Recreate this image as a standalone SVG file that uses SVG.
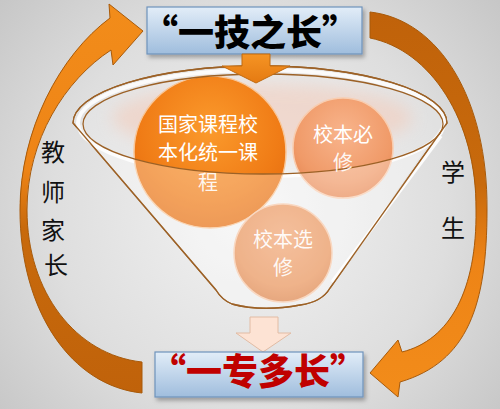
<svg xmlns="http://www.w3.org/2000/svg" width="500" height="409" viewBox="0 0 500 409">
<defs>
<radialGradient id="bg" cx="250" cy="210" r="330" gradientUnits="userSpaceOnUse">
<stop offset="0" stop-color="#f3f3f3"/><stop offset="0.6" stop-color="#dedede"/><stop offset="1" stop-color="#c6c6c6"/>
</radialGradient>
<linearGradient id="box" x1="0" y1="0" x2="0" y2="1">
<stop offset="0" stop-color="#e2edf8"/><stop offset="1" stop-color="#9fbddd"/>
</linearGradient>
<linearGradient id="arrL" gradientUnits="userSpaceOnUse" x1="140" y1="395" x2="120" y2="10">
<stop offset="0" stop-color="#c0620a"/><stop offset="0.45" stop-color="#c86a0c"/><stop offset="0.6" stop-color="#ee8416"/><stop offset="1" stop-color="#f28c1a"/>
</linearGradient>
<linearGradient id="arrR" gradientUnits="userSpaceOnUse" x1="380" y1="12" x2="380" y2="397">
<stop offset="0" stop-color="#c0620a"/><stop offset="0.45" stop-color="#c86a0c"/><stop offset="0.65" stop-color="#ee8416"/><stop offset="1" stop-color="#f28c1a"/>
</linearGradient>
<linearGradient id="downO" x1="0" y1="0" x2="0" y2="1">
<stop offset="0" stop-color="#f59424"/><stop offset="1" stop-color="#e57a12"/>
</linearGradient>
<radialGradient id="g1" cx="0.5" cy="0.35" r="0.65">
<stop offset="0" stop-color="#fb9a2c"/><stop offset="0.7" stop-color="#f07c16"/><stop offset="1" stop-color="#e66e10"/>
</radialGradient>
<radialGradient id="g2" cx="0.5" cy="0.35" r="0.65">
<stop offset="0" stop-color="#f8b48c"/><stop offset="0.75" stop-color="#f09a68"/><stop offset="1" stop-color="#e88a56"/>
</radialGradient>
<radialGradient id="g3" cx="0.5" cy="0.35" r="0.65">
<stop offset="0" stop-color="#f0a472"/><stop offset="0.75" stop-color="#e89258"/><stop offset="1" stop-color="#dc8248"/>
</radialGradient>
<filter id="sh" x="-10%" y="-20%" width="130%" height="160%">
<feDropShadow dx="2" dy="3" stdDeviation="2" flood-color="#000" flood-opacity="0.3"/>
</filter>
<filter id="blur" x="-20%" y="-50%" width="140%" height="200%">
<feGaussianBlur stdDeviation="8"/>
</filter>
<style>
.title{font-family:"Noto Sans CJK SC","Noto Sans",sans-serif;font-weight:900;font-size:36px;text-anchor:middle}
.ct{font-family:"Noto Sans CJK SC","Noto Sans",sans-serif;font-size:20px;fill:#ffffff;text-anchor:middle}
.side{font-family:"KaiTi","STKaiti","Noto Sans CJK SC",sans-serif;font-size:24px;fill:#111;text-anchor:middle}
.box{fill:url(#box);stroke:#6f93bb;stroke-width:1.2}
.arr{stroke:#a85a0a;stroke-width:1;stroke-linejoin:round}
.rim{fill:none;stroke:#9c6126;stroke-width:1.3}
</style>
</defs>
<rect width="500" height="409" fill="url(#bg)"/>

<g id="node-top">
<rect class="box" x="147" y="7" width="215" height="47" filter="url(#sh)"/>
<text class="title" x="250" y="46" fill="#000">“一技之长”</text>
</g>

<g id="node-funnel-back">
<path d="M73,123 A187 57 0 0 1 447,123 L330,288 Q322,302 300,305 Q262,312 232,304 Q222,300 216,290 Z" fill="#ffffff" fill-opacity="0.14" stroke="#9c6126" stroke-width="1.3"/>
<ellipse cx="261" cy="123" rx="183" ry="53" fill="none" stroke="#ffffff" stroke-width="4" stroke-opacity="0.85"/>
<ellipse cx="262" cy="118" rx="150" ry="34" fill="#f2ccbc" opacity="0.6" filter="url(#blur)"/>
</g>

<g id="node-c1">
<circle cx="210" cy="152" r="76" fill="url(#g1)" stroke="#f8c698" stroke-width="1.5"/>
</g>
<g id="node-c2">
<circle cx="343" cy="148" r="50" fill="url(#g2)" stroke="#f8cdb0" stroke-width="1.5"/>
</g>
<g id="node-c3">
<circle cx="283" cy="253" r="49" fill="url(#g3)" stroke="#f6c8a8" stroke-width="1.5"/>
</g>

<g id="node-funnel-front">
<path d="M83,124 A180 50 0 0 0 443,124 L330,288 Q322,302 300,305 Q262,312 232,304 Q222,300 216,290 L76,128 Z" fill="#ffffff" fill-opacity="0.3"/>
<path d="M441,136 L332,282" stroke="#ffffff" stroke-width="3.5" stroke-opacity="0.9" fill="none"/>
<ellipse class="rim" cx="263" cy="124" rx="180" ry="50"/>
<path d="M73,123 A187 57 0 0 1 447,123 L330,288 Q322,302 300,305 Q262,312 232,304 Q222,300 216,290 Z" fill="none" stroke="#9c6126" stroke-width="1.3"/>
</g>

<g id="connectors">
<path id="arrow-left" class="arr" fill="url(#arrL)" d="M142,393 C72,386 20,312 20,210 C20,130 60,55 110,18 L109,4 L143,31 L113,65 L111,50 C65,80 27,140 27,210 C27,292 76,355 142,362 Z"/>
<path id="arrow-right" class="arr" fill="url(#arrR)" d="M370,12 C440,20 488,100 487,210 C487,305 468,362 400,382 L398,397 L370,373 L398,340 L402,352 C450,340 477,290 476,210 C477,120 430,50 370,38 Z"/>
<polygon id="arrow-down-top" fill="url(#downO)" stroke="#c06a10" stroke-width="1" points="242,54 270,54 270,66 290,66 256,83 222,66 242,66"/>
<polygon id="arrow-down-bottom" fill="#fde3d4" stroke="#e2bca4" stroke-width="1" points="250,317 278,317 278,333 291,333 263,352 236,333 250,333"/>
</g>

<g id="node-c1-label">
<text class="ct" x="208" y="132">国家课程校</text>
<text class="ct" x="208" y="160">本化统一课</text>
<text class="ct" x="208" y="190" fill-opacity="0.92">程</text>
</g>
<g id="node-c2-label">
<text class="ct" x="343" y="142">校本必</text>
<text class="ct" x="343" y="170" fill-opacity="0.92">修</text>
</g>
<g id="node-c3-label">
<text class="ct" x="283" y="247" fill-opacity="0.95">校本选</text>
<text class="ct" x="283" y="275" fill-opacity="0.92">修</text>
</g>

<g id="node-bottom">
<rect class="box" x="155" y="352" width="208" height="45" filter="url(#sh)"/>
<text class="title" x="258" y="385" fill="#c00000">“一专多长”</text>
</g>

<g id="label-left">
<text class="side" x="53" y="161">教</text>
<text class="side" x="53" y="201">师</text>
<text class="side" x="53" y="239">家</text>
<text class="side" x="56" y="274">长</text>
</g>
<g id="label-right">
<text class="side" x="453" y="181">学</text>
<text class="side" x="453" y="237">生</text>
</g>
</svg>
